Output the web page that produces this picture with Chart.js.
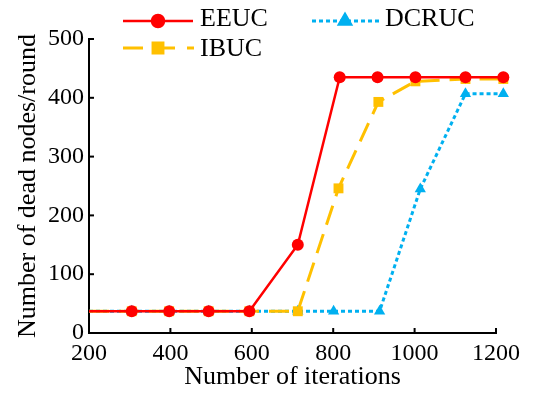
<!DOCTYPE html>
<html>
<head>
<meta charset="utf-8">
<script src="https://cdn.jsdelivr.net/npm/chart.js@4.4.0/dist/chart.umd.min.js"></script>
<style>
  html, body { margin: 0; padding: 0; background: #fff; }
  #wrap { width: 533px; height: 396px; }
</style>
</head>
<body>
<div id="wrap"><canvas id="myChart" width="533" height="396"></canvas></div>
<script>
// valores
var eeucX = [200, 305, 397, 494, 594, 713, 816, 909, 1002, 1125, 1218];
var eeucY = [37, 37, 37, 37, 37, 150, 435, 435, 435, 435, 435];
var ibucX = [200, 305, 397, 494, 594, 713, 813, 911, 1002, 1125, 1218];
var ibucY = [37, 37, 37, 37, 37, 37, 246, 393, 428, 432, 432];
var dcrucX = [200, 305, 397, 494, 594, 713, 801, 914, 1014, 1125, 1218];
var dcrucY = [37, 37, 37, 37, 37, 37, 37, 37, 245, 407, 407];
var xTicks = [200, 400, 600, 800, 1000, 1200];
var yTicks = [0, 100, 200, 300, 400, 500];

var fontFam = '"Liberation Serif", "Times New Roman", serif';

function pts(xs, ys) {
    return xs.map(function(x, i) { return { x: x, y: ys[i] }; });
}
function radii(xs, r) {
    // primeiro ponto (no eixo) sem marcador
    return xs.map(function(x, i) { return i === 0 ? 0 : r; });
}

// ticks para dentro + legenda em duas colunas
var extras = {
    id: 'extras',
    afterDatasetsDraw: function(chart) {
        // o Chart.js nao desenha marcadores fora da area; desenha-os com area maior
        var a = chart.chartArea;
        var big = { left: a.left - 40, right: a.right + 40, top: a.top - 40, bottom: a.bottom + 40 };
        for (var i = chart.data.datasets.length - 1; i >= 0; i--) {
            var meta = chart.getDatasetMeta(i);
            meta.data.forEach(function(el) {
                if (el.x > a.right) el.draw(chart.ctx, big);
            });
        }
    },
    afterDraw: function(chart) {
        var ctx = chart.ctx;
        var xs = chart.scales.x, ys = chart.scales.y;
        ctx.save();
        ctx.strokeStyle = '#000';
        ctx.lineWidth = 2;
        xTicks.forEach(function(v) {
            var px = xs.getPixelForValue(v);
            ctx.beginPath();
            ctx.moveTo(px, ys.bottom);
            ctx.lineTo(px, ys.bottom - 5);
            ctx.stroke();
        });
        yTicks.forEach(function(v) {
            var py = ys.getPixelForValue(v);
            ctx.beginPath();
            ctx.moveTo(xs.left, py);
            ctx.lineTo(xs.left + 5, py);
            ctx.stroke();
        });

        var items = [
            { ds: 0, x1: 123, x2: 193, y: 21, mx: 158, tx: 200, ty: 26, dash: [] },
            { ds: 1, x1: 123, x2: 194, y: 48, mx: 158, tx: 200, ty: 56, dash: [20, 12] },
            { ds: 2, x1: 312, x2: 380, y: 21, mx: 345, tx: 385, ty: 26, dash: [4, 3] }
        ];
        items.forEach(function(it) {
            var d = chart.data.datasets[it.ds];
            ctx.setLineDash(it.dash);
            ctx.strokeStyle = d.borderColor;
            ctx.lineWidth = d.borderWidth;
            ctx.beginPath();
            ctx.moveTo(it.x1, it.y);
            ctx.lineTo(it.x2, it.y);
            ctx.stroke();
            ctx.setLineDash([]);
            ctx.fillStyle = d.backgroundColor;
            ctx.strokeStyle = d.backgroundColor;
            Chart.helpers.drawPoint(ctx, {
                pointStyle: d.pointStyle, radius: d.legendRadius, rotation: 0, borderWidth: 1
            }, it.mx, it.y);
            ctx.fillStyle = '#000';
            ctx.font = '26px ' + fontFam;
            ctx.textAlign = 'left';
            ctx.textBaseline = 'alphabetic';
            ctx.fillText(d.label, it.tx, it.ty);
        });
        ctx.restore();
    }
};

var ctx = document.getElementById('myChart').getContext('2d');
var myChart = new Chart(ctx, {
    type: 'line',
    data: {
        datasets: [
            {
                label: 'EEUC',
                data: pts(eeucX, eeucY),
                borderColor: '#ff0000',
                backgroundColor: '#ff0000',
                borderWidth: 2.5,
                pointStyle: 'circle',
                pointRadius: radii(eeucX, 6),
                legendRadius: 6,
                pointBorderWidth: 0,
                clip: false
            },
            {
                label: 'IBUC',
                data: pts(ibucX, ibucY),
                borderColor: '#ffc000',
                backgroundColor: '#ffc000',
                borderWidth: 3,
                borderDash: [20, 10],
                pointStyle: 'rect',
                pointRadius: radii(ibucX, 7),
                legendRadius: 7,
                pointBorderWidth: 0,
                clip: false
            },
            {
                label: 'DCRUC',
                data: pts(dcrucX, dcrucY),
                borderColor: '#00b0f0',
                backgroundColor: '#00b0f0',
                borderWidth: 3,
                borderDash: [4, 3],
                pointStyle: 'triangle',
                pointRadius: radii(dcrucX, 6.5),
                legendRadius: 6.5,
                pointBorderWidth: 0,
                clip: false
            }
        ]
    },
    options: {
        responsive: false,
        animation: false,
        devicePixelRatio: 1,
        layout: { padding: { left: 0, right: 37, top: 39, bottom: 0 } },
        plugins: {
            legend: { display: false },
            tooltip: { enabled: false }
        },
        elements: { line: { tension: 0 } },
        scales: {
            x: {
                type: 'linear',
                min: 200,
                max: 1200,
                grid: { display: false, drawTicks: false },
                border: { display: true, color: '#000', width: 2 },
                ticks: {
                    stepSize: 200,
                    padding: 6,
                    color: '#000',
                    maxRotation: 0,
                    font: { family: fontFam, size: 24 },
                    callback: function(v) { return '' + v; }
                },
                title: {
                    display: true,
                    text: 'Number of iterations',
                    color: '#000',
                    padding: { top: 0, bottom: 3 },
                    font: { family: fontFam, size: 26 }
                },
                afterFit: function(scale) { scale.height = 63; }
            },
            y: {
                min: 0,
                max: 500,
                grid: { display: false, drawTicks: false },
                border: { display: true, color: '#000', width: 2 },
                ticks: {
                    stepSize: 100,
                    padding: 5,
                    color: '#000',
                    font: { family: fontFam, size: 24 },
                    callback: function(v) { return '' + v; }
                },
                title: {
                    display: true,
                    text: 'Number of dead nodes/round',
                    color: '#000',
                    padding: { top: 13, bottom: 0 },
                    font: { family: fontFam, size: 26 }
                },
                afterFit: function(scale) { scale.width = 89; }
            }
        }
    },
    plugins: [extras]
});
</script>
</body>
</html>
